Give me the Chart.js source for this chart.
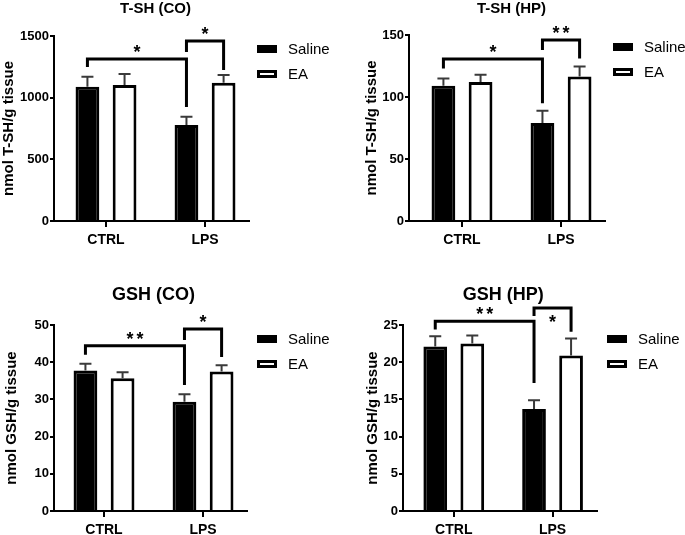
<!DOCTYPE html>
<html>
<head>
<meta charset="utf-8">
<script src="https://cdn.jsdelivr.net/npm/chart.js@4.4.1/dist/chart.umd.min.js"></script>
<style>
  html, body { margin: 0; padding: 0; background: #fff; }
  #wrap { position: relative; width: 685px; height: 535px; }
  #wrap canvas { position: absolute; left: 0; top: 0; }
</style>
</head>
<body>
<div id="wrap">
  <canvas id="c1" width="685" height="535"></canvas>
  <canvas id="c2" width="685" height="535"></canvas>
  <canvas id="c3" width="685" height="535"></canvas>
  <canvas id="c4" width="685" height="535"></canvas>
</div>
<script>
const categories = ["CTRL", "LPS"]
const seriesNames = ["Saline", "EA"]

// T-SH (CO)
const tshCoSaline = [1089, 778]
const tshCoSalineSem = [81, 68]
const tshCoEA = [1103, 1121]
const tshCoEASem = [89, 63]

// T-SH (HP)
const tshHpSaline = [109, 79]
const tshHpSalineSem = [6, 10]
const tshHpEA = [112, 116.5]
const tshHpEASem = [6, 8]

// GSH (CO)
const gshCoSaline = [37.8, 29.4]
const gshCoSalineSem = [1.8, 2.0]
const gshCoEA = [35.7, 37.5]
const gshCoEASem = [1.6, 1.7]

// GSH (HP)
const gshHpSaline = [22.1, 13.7]
const gshHpSalineSem = [1.4, 1.2]
const gshHpEA = [22.5, 20.9]
const gshHpEASem = [1.1, 2.3]

// significance brackets: [fromSeries, fromCat, toSeries, toCat, top, leftEnd, rightEnd, label, labelBelow]
const tshCoBrackets = [[0, 0, 0, 1, 1313, 1249, 924, "*"], [0, 1, 1, 1, 1459, 1370, 1224, "*"]]
const tshHpBrackets = [[0, 0, 0, 1, 130.6, 123, 95, "*"], [0, 1, 1, 1, 146, 138, 131, "**"]]
const gshCoBrackets = [[0, 0, 0, 1, 44.4, 42, 33.9, "**"], [0, 1, 1, 1, 48.9, 46, 41.4, "*"]]
const gshHpBrackets = [[0, 0, 0, 1, 25.5, 24.4, 17.2, "**"], [0, 1, 1, 1, 27.3, 26.2, 24.1, "*", true]]

Chart.defaults.font.family = "'Liberation Sans', Arial, sans-serif"
Chart.defaults.color = "#000"

const FONT = "'Liberation Sans', Arial, sans-serif"

const extras = {
    id: "extras",
    afterDatasetsDraw(chart, args, o) {
        const ctx = chart.ctx
        const xs = chart.scales.x
        const ys = chart.scales.y
        const area = chart.chartArea
        ctx.save()

        // error bars (upper only)
        ctx.strokeStyle = "#3a3a3a"
        ctx.lineWidth = 2
        o.sems.forEach((sem, di) => {
            const meta = chart.getDatasetMeta(di)
            meta.data.forEach((bar, i) => {
                const top = ys.getPixelForValue(chart.data.datasets[di].data[i].y + sem[i])
                ctx.beginPath()
                ctx.moveTo(bar.x, bar.y)
                ctx.lineTo(bar.x, top)
                ctx.moveTo(bar.x - 6, top)
                ctx.lineTo(bar.x + 6, top)
                ctx.stroke()
            })
        })

        // brackets
        ctx.strokeStyle = "#000"
        ctx.lineWidth = 3
        ctx.lineJoin = "miter"
        o.brackets.forEach(b => {
            const x1 = chart.getDatasetMeta(b[0]).data[b[1]].x
            const x2 = chart.getDatasetMeta(b[2]).data[b[3]].x
            const yt = ys.getPixelForValue(b[4])
            ctx.beginPath()
            ctx.moveTo(x1, ys.getPixelForValue(b[5]))
            ctx.lineTo(x1, yt)
            ctx.lineTo(x2, yt)
            ctx.lineTo(x2, ys.getPixelForValue(b[6]))
            ctx.stroke()
            ctx.fillStyle = "#000"
            ctx.font = "bold 18px " + FONT
            ctx.textAlign = "center"
            ctx.textBaseline = "alphabetic"
            if ("letterSpacing" in ctx) ctx.letterSpacing = b[7].length > 1 ? "3px" : "0px"
            ctx.fillText(b[7], (x1 + x2) / 2 + (b[7].length > 1 ? 1.5 : 0), b[8] ? yt + 20 : yt - 1)
            if ("letterSpacing" in ctx) ctx.letterSpacing = "0px"
        })

        // legend
        const lx = area.right + o.legendDx
        seriesNames.forEach((name, i) => {
            const ly = area.top + o.legendDy + i * 25
            ctx.fillStyle = i == 0 ? "#000" : "#fff"
            ctx.fillRect(lx, ly, 20, 8)
            ctx.lineWidth = 3
            ctx.strokeStyle = "#000"
            ctx.strokeRect(lx + 1.5, ly + 1.5, 17, 5)
            ctx.fillStyle = "#000"
            ctx.font = "15px " + FONT
            ctx.textAlign = "left"
            ctx.textBaseline = "middle"
            ctx.fillText(name, lx + 31, ly + 4.5)
        })

        // title, centred over the two groups
        ctx.font = "bold " + o.titleSize + "px " + FONT
        ctx.textAlign = "center"
        ctx.textBaseline = "middle"
        ctx.fillText(o.title, xs.getPixelForValue(0.5), area.top - o.titleDy)
        ctx.restore()
    }
}

function makePanel(id, p) {
    return new Chart(document.getElementById(id), {
        type: "bar",
        data: {
            datasets: [
                {
                    label: seriesNames[0],
                    data: p.saline.map((v, i) => ({ x: i, y: v })),
                    backgroundColor: "#000",
                    borderColor: "#000",
                    borderWidth: 3,
                },
                {
                    label: seriesNames[1],
                    data: p.ea.map((v, i) => ({ x: i, y: v })),
                    backgroundColor: "#fff",
                    borderColor: "#000",
                    borderWidth: 3,
                }
            ]
        },
        options: {
            responsive: false,
            animation: false,
            events: [],
            devicePixelRatio: 1,
            categoryPercentage: 0.75,
            barPercentage: 0.64,
            layout: {
                padding: { left: p.pad[0], top: p.pad[1], right: p.pad[2], bottom: p.pad[3] }
            },
            plugins: {
                legend: { display: false },
                tooltip: { enabled: false },
                extras: {
                    sems: [p.salineSem, p.eaSem],
                    brackets: p.brackets,
                    title: p.title,
                    titleSize: p.titleSize,
                    titleDy: p.titleDy,
                    legendDx: p.legendDx,
                    legendDy: p.legendDy
                }
            },
            scales: {
                x: {
                    type: "linear",
                    offset: false,
                    min: p.xRange[0],
                    max: p.xRange[1],
                    afterBuildTicks: s => { s.ticks = [{ value: 0 }, { value: 1 }] },
                    afterFit: s => { s.height = p.xHeight },
                    grid: { offset: false, drawOnChartArea: false, color: "#000", lineWidth: 2, tickLength: 6 },
                    border: { color: "#000", width: 2 },
                    ticks: {
                        font: { size: 14, weight: "bold" },
                        padding: 5,
                        color: "#000",
                        callback: v => categories[v]
                    }
                },
                y: {
                    min: 0,
                    max: p.yMax,
                    afterFit: s => { s.width = p.yWidth },
                    grid: { drawOnChartArea: false, color: "#000", lineWidth: 2, tickLength: 4 },
                    border: { color: "#000", width: 2 },
                    ticks: {
                        stepSize: p.yStep,
                        font: { size: 13, weight: "bold" },
                        padding: 1,
                        color: "#000",
                        callback: v => String(v)
                    },
                    title: {
                        display: true,
                        text: p.yTitle,
                        font: { size: 15, weight: "bold" },
                        padding: 0,
                        color: "#000"
                    }
                }
            }
        },
        plugins: [extras]
    })
}

makePanel("c1", {
    title: "T-SH (CO)", titleSize: 15, titleDy: 27, yTitle: "nmol T-SH/g tissue",
    saline: tshCoSaline, salineSem: tshCoSalineSem, ea: tshCoEA, eaSem: tshCoEASem,
    brackets: tshCoBrackets, yMax: 1500, yStep: 500,
    xRange: [-0.525, 1.444], yWidth: 54, xHeight: 30, pad: [0, 36, 436, 284], legendDx: 8, legendDy: 9
})
makePanel("c2", {
    title: "T-SH (HP)", titleSize: 15, titleDy: 26, yTitle: "nmol T-SH/g tissue",
    saline: tshHpSaline, salineSem: tshHpSalineSem, ea: tshHpEA, eaSem: tshHpEASem,
    brackets: tshHpBrackets, yMax: 150, yStep: 50,
    xRange: [-0.535, 1.444], yWidth: 46, xHeight: 30, pad: [363, 35, 80, 284], legendDx: 8, legendDy: 8
})
makePanel("c3", {
    title: "GSH (CO)", titleSize: 18, titleDy: 30, yTitle: "nmol GSH/g tissue",
    saline: gshCoSaline, salineSem: gshCoSalineSem, ea: gshCoEA, eaSem: gshCoEASem,
    brackets: gshCoBrackets, yMax: 50, yStep: 10,
    xRange: [-0.505, 1.444], yWidth: 51, xHeight: 24, pad: [3, 325, 438, 0], legendDx: 10, legendDy: 10
})
makePanel("c4", {
    title: "GSH (HP)", titleSize: 18, titleDy: 30, yTitle: "nmol GSH/g tissue",
    saline: gshHpSaline, salineSem: gshHpSalineSem, ea: gshHpEA, eaSem: gshHpEASem,
    brackets: gshHpBrackets, yMax: 25, yStep: 5,
    xRange: [-0.514, 1.45], yWidth: 39, xHeight: 24, pad: [364, 325, 88, 0], legendDx: 10, legendDy: 10
})
</script>
</body>
</html>
